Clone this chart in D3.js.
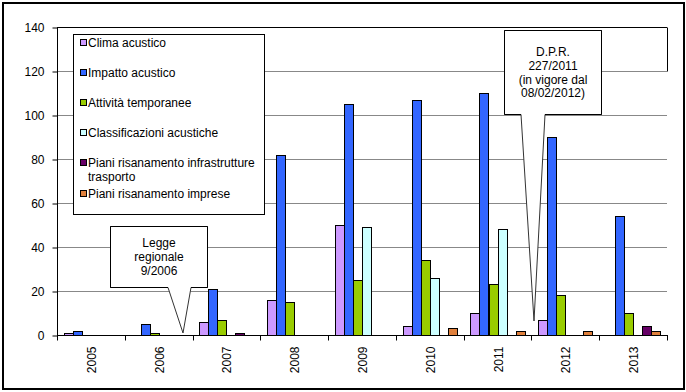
<!DOCTYPE html>
<html><head><meta charset="utf-8">
<script src="https://cdn.jsdelivr.net/npm/d3@7"></script>
<style>body{margin:0;background:#fff}svg{display:block;font-family:Arial,"Liberation Sans",sans-serif}</style>
</head><body><svg id="c" width="686" height="392"></svg>
<script>
const years = ["2005","2006","2007","2008","2009","2010","2011","2012","2013"];
const seriesNames = ["Clima acustico","Impatto acustico","Attività temporanee","Classificazioni acustiche","Piani risanamento infrastrutture trasporto","Piani risanamento imprese"];
const legendLines = [["Clima acustico"],["Impatto acustico"],["Attività temporanee"],["Classificazioni acustiche"],["Piani risanamento infrastrutture","trasporto"],["Piani risanamento imprese"]];
const colors = ["#CC99FF","#3366FF","#99CC00","#CCFFFF","#660066","#E0803C"];
const clima = [1,0,6,16,50,4,10,7,0];
const impatto = [2,5,21,82,105,107,110,90,54];
const attivita = [0,1,7,15,25,34,23,18,10];
const classif = [0,0,0,0,49,26,48,0,0];
const pianiInfra = [0,0,1,0,0,0,0,0,4];
const pianiImprese = [0,0,0,0,0,3,2,2,2];
const yTicks = [0,20,40,60,80,100,120,140];
const allSeries = [clima, impatto, attivita, classif, pianiInfra, pianiImprese];

const svg = d3.select("#c");
const L = 57, R = 667, T = 27, B = 335;
const x0 = d3.scaleBand().domain(years).range([L, R]);
const bw = x0.bandwidth();
const barW = bw / 7.5;
const x1 = d3.scaleBand().domain(d3.range(6)).range([barW*0.75, bw - barW*0.75]);
const y = d3.scaleLinear().domain([0,140]).range([B, T]);

// chart border
svg.append("rect").attr("x",3).attr("y",3).attr("width",681).attr("height",386)
  .attr("fill","#fff").attr("stroke","#000").attr("stroke-width",2);

// gridlines
svg.append("g").selectAll("line").data(yTicks.filter(d=>d>0)).join("line")
  .attr("x1",L).attr("x2",R).attr("y1",d=>Math.round(y(d))+0.5).attr("y2",d=>Math.round(y(d))+0.5)
  .attr("stroke",d=>d===140?"#000":"#888").attr("stroke-width",1);
// right border top part
svg.append("line").attr("x1",R+0.5).attr("x2",R+0.5).attr("y1",T+0.5).attr("y2",y(120)+0.5).attr("stroke","#000");

// bars
allSeries.forEach((vals, si) => {
  svg.append("g").selectAll("rect").data(years.map((yr,i)=>({yr, v: vals[i]})).filter(d=>d.v>0)).join("rect")
    .attr("x", d => Math.round(x0(d.yr) + x1(si)) + 0.5)
    .attr("y", d => Math.round(y(d.v)) + 0.5)
    .attr("width", Math.round(barW))
    .attr("height", d => Math.round(y(0)) - Math.round(y(d.v)))
    .attr("fill", colors[si]).attr("stroke","#000").attr("stroke-width",1);
});

// y axis
const yAxis = svg.append("g").attr("transform",`translate(${L+0.5},0.5)`)
  .call(d3.axisLeft(y).tickValues(yTicks).tickSize(5).tickPadding(8).tickFormat(d3.format("d")));
yAxis.select(".domain").attr("d",`M0,${T}V${B}`).attr("stroke","#000");
yAxis.selectAll("text").attr("font-size",12).attr("fill","#000").attr("font-family","Arial, Liberation Sans");
yAxis.selectAll(".tick line").attr("stroke","#000");

// x axis
const xAxisG = svg.append("g").attr("transform",`translate(0,${B+0.5})`);
xAxisG.append("line").attr("x1",L).attr("x2",R+1).attr("y1",0).attr("y2",0).attr("stroke","#000");
const bounds = years.map(yr=>x0(yr)).concat([R]);
xAxisG.selectAll("line.t").data(bounds).join("line").attr("class","t")
  .attr("x1",d=>Math.round(d)+0.5).attr("x2",d=>Math.round(d)+0.5).attr("y1",0).attr("y2",5).attr("stroke","#000");
xAxisG.selectAll("text").data(years).join("text")
  .attr("transform", d => `translate(${x0(d)+bw/2+1},${11}) rotate(-90)`)
  .attr("text-anchor","end").attr("dominant-baseline","central")
  .attr("font-size",12).attr("fill","#000").text(d=>d);

// legend
const lg = svg.append("g");
lg.append("rect").attr("x",73.5).attr("y",34.5).attr("width",191).attr("height",180).attr("fill","#fff").attr("stroke","#000");
const rowY = [43,73,103,133,163,194];
legendLines.forEach((lines, i) => {
  lg.append("rect").attr("x",80.5).attr("y",rowY[i]-3.5).attr("width",6).attr("height",6)
    .attr("fill",colors[i]).attr("stroke","#000");
  lines.forEach((ln, j) => {
    lg.append("text").attr("x",88).attr("y",rowY[i]+j*14).attr("dominant-baseline","central")
      .attr("font-size",12).attr("fill","#000").text(ln);
  });
});

// callouts
function callout(bx, by, bw_, bh, p1, p2, tip, lines, lineY) {
  const g = svg.append("g");
  g.append("path").attr("d",
    `M${bx},${by}H${bx+bw_}V${by+bh}H${p2}L${tip[0]},${tip[1]}L${p1},${by+bh}H${bx}Z`)
    .attr("fill","#fff").attr("stroke","#333").attr("stroke-width",1);
  g.append("path").attr("d",`M${p1},${by+bh}H${bx}V${by}H${bx+bw_}V${by+bh}H${p2}`)
    .attr("fill","none").attr("stroke","#000");
  lines.forEach((t,i)=>{
    g.append("text").attr("x",bx+bw_/2).attr("y",lineY[i]).attr("text-anchor","middle")
      .attr("dominant-baseline","central").attr("font-size",12).attr("fill","#000").text(t);
  });
}
callout(110.5, 226.5, 97, 61, 168, 191, [183,333], ["Legge","regionale","9/2006"], [243,257,271]);
callout(504.5, 30.5, 97, 84, 521, 545, [534,321], ["D.P.R.","227/2011","(in vigore dal","08/02/2012)"], [52,66,80,93]);
</script></body></html>
